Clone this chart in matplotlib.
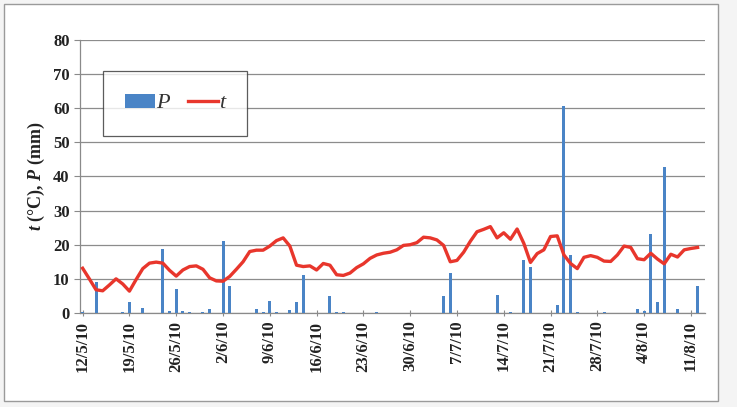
import matplotlib
matplotlib.use("Agg")
import matplotlib.pyplot as plt
import numpy as np
import pandas as pd
from matplotlib.patches import Rectangle

# Daily data, 12/5/2010 .. 12/8/2010
start_date = "2010-05-12"
temperature = [
    13.1, 10.0, 6.8, 6.5, 8.2, 10.0, 8.5, 6.4, 9.8, 13.0,
    14.6, 14.9, 14.6, 12.5, 10.8, 12.6, 13.6, 13.8, 12.8, 10.3,
    9.4, 9.3, 10.7, 12.8, 15.0, 18.0, 18.4, 18.4, 19.6, 21.2,
    22.0, 19.6, 14.0, 13.6, 13.8, 12.6, 14.5, 14.0, 11.2, 11.0,
    11.7, 13.3, 14.4, 16.0, 17.0, 17.5, 17.8, 18.5, 19.8, 20.0,
    20.6, 22.2, 22.0, 21.4, 19.8, 15.0, 15.4, 17.8, 21.0, 23.8,
    24.5, 25.3, 22.0, 23.5, 21.6, 24.6, 20.4, 14.8, 17.4, 18.5,
    22.4, 22.6, 17.0, 14.5, 13.0, 16.3, 16.8, 16.3, 15.2, 15.1,
    17.0, 19.6, 19.2, 15.9, 15.6, 17.5, 15.8, 14.4, 17.2, 16.4,
    18.5, 18.9, 19.2,
]
precipitation = [
    0.2, 0.0, 9.0, 0.0, 0.0, 0.0, 0.3, 3.1, 0.0, 1.5,
    0.0, 0.0, 18.7, 0.5, 7.0, 0.6, 0.2, 0.0, 0.3, 1.2,
    0.0, 21.0, 7.8, 0.0, 0.0, 0.0, 1.2, 0.2, 3.6, 0.2,
    0.0, 0.8, 3.3, 11.1, 0.0, 0.0, 0.0, 5.1, 0.3, 0.2,
    0.0, 0.0, 0.0, 0.0, 0.2, 0.0, 0.0, 0.0, 0.0, 0.0,
    0.0, 0.0, 0.0, 0.0, 4.9, 11.7, 0.0, 0.0, 0.0, 0.0,
    0.0, 0.0, 5.2, 0.0, 0.2, 0.0, 15.6, 13.6, 0.0, 0.0,
    0.0, 2.4, 60.5, 17.0, 0.2, 0.0, 0.0, 0.0, 0.2, 0.0,
    0.0, 0.0, 0.0, 1.2, 0.5, 23.1, 3.1, 42.8, 0.0, 1.2,
    0.0, 0.0, 8.0,
]
tick_labels = ["12/5/10", "19/5/10", "26/5/10", "2/6/10", "9/6/10", "16/6/10",
               "23/6/10", "30/6/10", "7/7/10", "14/7/10", "21/7/10", "28/7/10",
               "4/8/10", "11/8/10"]
y_ticks = [0, 10, 20, 30, 40, 50, 60, 70, 80]

plt.rcParams['mathtext.fontset'] = 'custom'
plt.rcParams['mathtext.it'] = 'Liberation Serif:italic:bold'
plt.rcParams['mathtext.rm'] = 'Liberation Serif:bold'
plt.rcParams['font.family'] = ['Liberation Serif', 'DejaVu Serif']

dates = pd.date_range(start_date, periods=len(temperature))
x = np.arange(len(dates))

fig = plt.figure(figsize=(7.37, 4.07), dpi=100, facecolor='#f4f4f4')
fig.patches.append(Rectangle((0.006, 0.015), 0.968, 0.975, transform=fig.transFigure,
                             facecolor='white', edgecolor='#9a9a9a', linewidth=1.0, zorder=-10))
ax = fig.add_axes([0.1085, 0.231, 0.848, 0.671])
ax.set_facecolor('none')

bars = ax.bar(x, precipitation, width=0.45, color='#4a84c6', label='P', zorder=3)
line, = ax.plot(x, temperature, color='#e8362c', linewidth=2.4, label='t', zorder=4)

ax.set_ylim(0, 80)
ax.set_yticks(y_ticks)
ax.set_xlim(-0.4, 93.1)
ax.set_xticks(x[::7])
ax.set_xticklabels(tick_labels, rotation=90, fontsize=12, fontweight='bold', color='#222222')
ax.tick_params(axis='y', labelsize=12, colors='#8a8a8a', length=4, width=0.8)
for lab in ax.get_yticklabels():
    lab.set_fontweight('bold')
    lab.set_color('#222222')
ax.tick_params(axis='x', colors='#8a8a8a', length=4, width=0.8, direction='inout')
for lab in ax.get_xticklabels():
    lab.set_color('#222222')

ax.grid(axis='y', color='#8c8c8c', linewidth=0.9, zorder=0)
ax.set_axisbelow(True)
for s in ['top', 'right']:
    ax.spines[s].set_visible(False)
for s in ['left', 'bottom']:
    ax.spines[s].set_color('#8a8a8a')
    ax.spines[s].set_linewidth(0.9)

ax.set_ylabel('$t$ (°C), $P$ (mm)', fontsize=13, fontweight='bold', color='#222222', labelpad=4)

leg = ax.legend([bars, line], ['P', 't'], loc='upper left', bbox_to_anchor=(0.037, 0.885), ncol=2,
                prop={'family': 'Liberation Serif', 'style': 'italic', 'size': 16},
                frameon=True, fancybox=False, borderpad=1.0, handlelength=1.35,
                handleheight=0.6, handletextpad=0.05, columnspacing=0.8, borderaxespad=0)
leg.get_frame().set_edgecolor('#333333')
leg.get_frame().set_linewidth(0.9)
for txt in leg.get_texts():
    txt.set_color('#333333')

fig.savefig('out.png', dpi=100, facecolor=fig.get_facecolor())
